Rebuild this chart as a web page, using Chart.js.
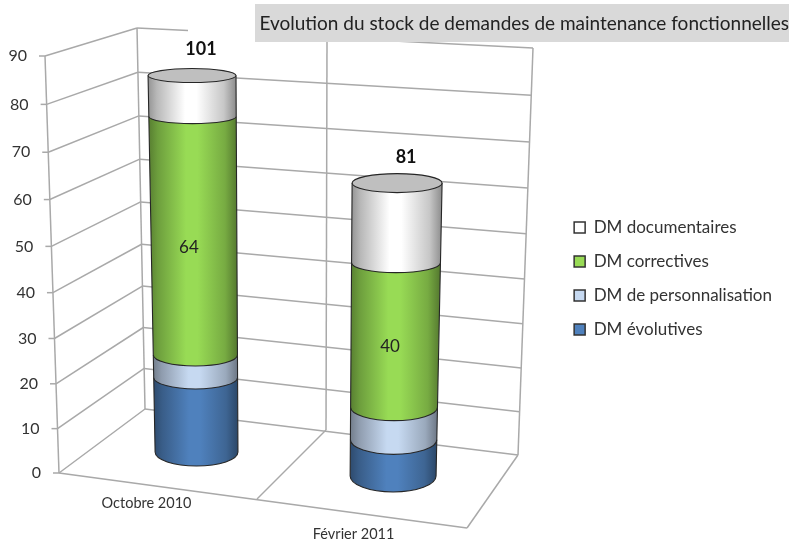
<!DOCTYPE html>
<html><head><meta charset="utf-8">
<style>html,body{margin:0;padding:0;background:#fff}canvas{display:block}</style>
<script src="https://cdn.jsdelivr.net/npm/chart.js@4"></script>
</head><body><canvas id="c" width="789" height="541"></canvas>
<script>
const categories = ['Octobre 2010', 'Février 2011'];
const evolutives = [20, 10];
const personnalisation = [6, 9];
const correctives = [64, 40];
const documentaires = [11, 22];
const totals = [101, 81];
const yTicksMax = 90;
const titleText = 'Evolution du stock de demandes de maintenance fonctionnelles';
const FONT = 'Lato, "Open Sans", sans-serif';

/* 3D-look geometry of the chart box */
const G = { F:[[59,473],[45,56]], BL:[[145,409],[137,28]], BR:[[518,455],[533,48]],
            MID:[[326,430],[327,41]], FR:[467,528], MF:[257,499], warp:1.05 };
const B = { base:[452,476], f:[.806,.782], cxBot:[50,39.5], cxTop:[45.5,43.5],
            hBot:[.976,1.012], hTop:[1.036,1.06], ryBot:[14,16], ryTop:[7,9.5] };
const warp = t => t/(t+(1-t)*G.warp);
const edge = (E,t) => { const w=warp(t); return [E[0][0]+(E[1][0]-E[0][0])*w, E[0][1]+(E[1][1]-E[0][1])*w]; };
const tOf = (s,v) => { const z=s.getPixelForValue(0), m=s.getPixelForValue(yTicksMax); return (z-s.getPixelForValue(v))/(z-m); };

function shade(hex,k){const n=parseInt(hex.slice(1),16);const c=[n>>16&255,n>>8&255,n&255].map(x=>Math.round(x*k));return `rgb(${c})`;}

const box3d = {
  id:'box3d',
  beforeDraw(chart){
    const ctx=chart.ctx, y=chart.scales.y;
    // slanted tick labels follow the left edge of the box
    y.getLabelItems().forEach((it,i)=>{
      const v=y.ticks[i].value, p=edge(G.F,tOf(y,v));
      it.options.translation=[p[0]-18,p[1]];
    });
    const line=(a,b)=>{ctx.beginPath();ctx.moveTo(a[0],a[1]);ctx.lineTo(b[0],b[1]);ctx.stroke();};
    ctx.save(); ctx.strokeStyle='#a9a9a9'; ctx.lineWidth=1.5;
    y.ticks.forEach(tk=>{
      const t=tOf(y,tk.value), f=edge(G.F,t), l=edge(G.BL,t), r=edge(G.BR,t);
      line([f[0]-6,f[1]],f);
      line(f,l);
      if(tk.value<yTicksMax) line(l,r);
      else { line(l,[l[0]+51,l[1]+2.5]); line([l[0]+118,l[1]+6],r); }
    });
    line(G.F[0],G.F[1]); line(G.BL[0],G.BL[1]); line(G.BR[0],G.BR[1]); line(G.MID[0],G.MID[1]);
    line(G.F[0],G.FR); line(G.FR,G.BR[0]); line(G.MID[0],G.MF);
    ctx.fillStyle='#d9d9d9'; ctx.fillRect(255,4,534,38);
    ctx.restore();
  },
  beforeDatasetDraw(){ return false; },
  afterDatasetsDraw(chart){
    const ctx=chart.ctx, y=chart.scales.y, z=y.getPixelForValue(0);
    categories.forEach((_,i)=>{
      const topPx=y.getPixelForValue(totals[i]);
      const geo=(el,px)=>{
        const s=(z-px)/(z-topPx), Y=B.base[i]-B.f[i]*(z-px);
        const c=el.x+B.cxBot[i]+(B.cxTop[i]-B.cxBot[i])*s;
        const h=el.width/2*(B.hBot[i]+(B.hTop[i]-B.hBot[i])*s);
        const q=(1-s)*(1-s), ry=B.ryTop[i]+(B.ryBot[i]-B.ryTop[i])*q;
        return {Y,c,h,ry};
      };
      let last=null;
      chart.data.datasets.forEach((ds,k)=>{
        const el=chart.getDatasetMeta(k).data[i];
        const a=geo(el,el.base), b=geo(el,el.y);
        const g=ctx.createLinearGradient(Math.min(a.c-a.h,b.c-b.h),0,Math.max(a.c+a.h,b.c+b.h),0);
        [[0,.58],[.1,.72],[.42,1],[.55,1],[.86,.78],[1,.55]].forEach(([o,m])=>g.addColorStop(o,shade(ds.backgroundColor,m)));
        ctx.save();
        const path=()=>{ctx.beginPath();
          ctx.moveTo(b.c-b.h,b.Y);
          ctx.lineTo(a.c-a.h,a.Y);
          ctx.ellipse(a.c,a.Y,a.h,a.ry,0,Math.PI,0,true);
          ctx.lineTo(b.c+b.h,b.Y);};
        path(); ctx.closePath(); ctx.fillStyle=g; ctx.fill();
        path(); ctx.strokeStyle='#262626'; ctx.lineWidth=1.1; ctx.stroke();
        ctx.restore();
        last=b;
        if(ds.showValue){
          ctx.save();
          ctx.font='17px '+FONT; ctx.fillStyle='#222'; ctx.textAlign='center'; ctx.textBaseline='middle';
          ctx.fillText(String(ds.data[i]),(a.c+b.c)/2-5,(a.Y+b.Y)/2+12);
          ctx.restore();
        }
      });
      ctx.save();
      ctx.beginPath(); ctx.ellipse(last.c,last.Y,last.h,last.ry,0,0,Math.PI*2);
      ctx.fillStyle='#bfbfbf'; ctx.fill(); ctx.strokeStyle='#262626'; ctx.lineWidth=1.1; ctx.stroke();
      ctx.font='bold 18px '+FONT; ctx.fillStyle='#111'; ctx.textAlign='center'; ctx.textBaseline='middle';
      ctx.fillText(String(totals[i]),last.c+9,last.Y-26);
      ctx.restore();
    });
  }
};

new Chart(document.getElementById('c'),{
  type:'bar',
  data:{labels:categories,datasets:[
    {label:'DM évolutives',data:evolutives,backgroundColor:'#4F81BD',borderColor:'#333',borderWidth:1.5},
    {label:'DM de personnalisation',data:personnalisation,backgroundColor:'#C6D9F1',borderColor:'#333',borderWidth:1.5},
    {label:'DM correctives',data:correctives,backgroundColor:'#98DB55',borderColor:'#333',borderWidth:1.5,showValue:true},
    {label:'DM documentaires',data:documentaires,backgroundColor:'#FFFFFF',borderColor:'#333',borderWidth:1.5}
  ]},
  plugins:[box3d],
  options:{
    responsive:false,animation:false,
    layout:{padding:0},
    datasets:{bar:{barPercentage:.41,categoryPercentage:1}},
    scales:{
      x:{stacked:true,grid:{display:false},border:{display:false},
         afterFit(s){s.height=68;},
         ticks:{color:'#333',padding:15,maxRotation:0,autoSkip:false,
           font:{family:FONT,size:14.5,lineHeight:1.07},
           callback(v,i){return i===1?['','',categories[i]]:categories[i];}}},
      y:{stacked:true,min:0,max:yTicksMax,grid:{display:false},border:{display:false},
         afterFit(s){s.width=43;},
         ticks:{stepSize:10,font:{family:FONT,size:16},color:'#333',padding:2}},
      gap:{type:'linear',position:'right',display:true,grid:{display:false},border:{display:false},
         ticks:{display:false},afterFit(s){s.width=100;}},
      edgeGap:{type:'linear',position:'right',weight:2000,display:true,grid:{display:false},border:{display:false},
         ticks:{display:false},afterFit(s){s.width=7;}}
    },
    plugins:{
      tooltip:{enabled:false},
      title:{display:true,text:titleText,align:'end',color:'#222',
        font:{family:FONT,size:19,weight:'normal'},padding:{top:12,bottom:22}},
      legend:{position:'right',reverse:true,align:'center',maxWidth:240,
        title:{display:true,text:' ',font:{size:10},padding:{top:0,bottom:4}},
        labels:{boxWidth:11,boxHeight:11,padding:17,color:'#333',font:{family:FONT,size:17}}}
    }
  }
});
</script></body></html>
